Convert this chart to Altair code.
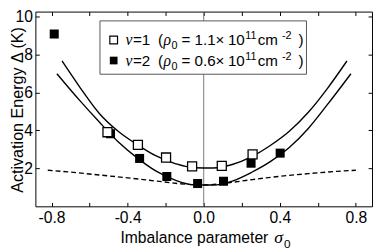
import altair as alt
import pandas as pd

# ---------------- data ----------------
upper_x = [-0.745, -0.65, -0.55, -0.45, -0.35, -0.25, -0.15, -0.05, 0.05, 0.15, 0.25, 0.35, 0.45, 0.55, 0.65, 0.753]
upper_y = [7.65, 6.25, 4.9, 3.95, 3.25, 2.65, 2.25, 2.03, 2.02, 2.2, 2.6, 3.2, 3.95, 4.95, 6.2, 7.65]

lower_x = [-0.772, -0.65, -0.55, -0.45, -0.35, -0.25, -0.15, -0.05, 0.05, 0.15, 0.25, 0.35, 0.45, 0.55, 0.65, 0.774]
lower_y = [6.98, 5.55, 4.45, 3.4, 2.55, 1.85, 1.38, 1.13, 1.12, 1.33, 1.78, 2.35, 3.1, 4.1, 5.35, 6.98]

dash_x = [-0.82, -0.7, -0.55, -0.4, -0.25, -0.1, 0.0, 0.1, 0.25, 0.4, 0.55, 0.7, 0.8]
dash_y = [1.9, 1.8, 1.65, 1.5, 1.33, 1.17, 1.12, 1.2, 1.4, 1.58, 1.72, 1.84, 1.9]

nu1_x = [-0.506, -0.346, -0.198, -0.061, 0.095, 0.257]
nu1_y = [3.9, 3.23, 2.57, 2.1, 2.13, 2.73]

nu2_x = [-0.786, -0.49, -0.337, -0.194, -0.032, 0.104, 0.249, 0.402]
nu2_y = [9.07, 3.82, 2.52, 1.57, 1.2, 1.32, 2.27, 2.8]

x_label_values = [-0.8, -0.4, 0.0, 0.4, 0.8]
x_tick_values = [-0.8, -0.6, -0.4, -0.2, 0.0, 0.2, 0.4, 0.6, 0.8]
y_values = [2, 4, 6, 8, 10]
x_domain = [-0.885, 0.885]
y_domain = [0, 10.25]

legend_nu = ["1", "2"]
legend_rho = ["1.1", "0.6"]
y_title = "Activation Energy Δ (K)"
x_title = "Imbalance parameter"

# ---------------- layout ----------------
W, H = 344, 199
SANS = "Liberation Sans"
SERIF = "Liberation Serif"

xs = alt.Scale(domain=x_domain, nice=False, zero=False)
ys = alt.Scale(domain=y_domain, nice=False, zero=False)

common = dict(grid=False, domain=False, title=None)
ax_x_labels = alt.Axis(orient="bottom", values=x_label_values, ticks=False, tickSize=0,
                       labelPadding=4, labelFontSize=16, labelFont=SANS,
                       labelExpr="datum.value < 0 ? '-' + format(-datum.value, '.1f') : format(datum.value, '.1f')",
                       **common)
ax_x_ticks_bottom = alt.Axis(orient="top", offset=-H, values=x_tick_values, labels=False,
                             tickSize=4, **common)
ax_x_ticks_top = alt.Axis(orient="bottom", offset=-H, values=x_tick_values, labels=False,
                          tickSize=4, **common)
ax_y_labels = alt.Axis(orient="left", values=y_values, ticks=False, tickSize=0, labelPadding=3,
                       labelFontSize=16, labelFont=SANS, grid=False, domain=False,
                       title=y_title, titleFont=SANS, titleFontSize=16.5, titleFontWeight="normal",
                       titleX=-13.5, titleY=100, titleBaseline="alphabetic", titleAngle=270,
                       titleAlign="center", titleColor="black")
ax_y_ticks_left = alt.Axis(orient="right", offset=-W, values=y_values, labels=False,
                           tickSize=4, **common)
ax_y_ticks_right = alt.Axis(orient="left", offset=-W, values=y_values, labels=False,
                            tickSize=4, **common)

one = pd.DataFrame({"k": [0]})

rule0 = alt.Chart(pd.DataFrame({"x": [0.0]})).mark_rule(color="#7a7a7a", strokeWidth=1).encode(
    x=alt.X("x:Q", scale=xs, axis=ax_x_labels))

dashed = alt.Chart(pd.DataFrame({"x": dash_x, "y": dash_y})).mark_line(
    color="black", strokeWidth=1.4, strokeDash=[5, 3], interpolate="monotone").encode(
    x=alt.X("x:Q", scale=xs, axis=ax_x_ticks_bottom),
    y=alt.Y("y:Q", scale=ys, axis=ax_y_labels))

lower = alt.Chart(pd.DataFrame({"x": lower_x, "y": lower_y})).mark_line(
    color="black", strokeWidth=1.4, interpolate="monotone").encode(
    x=alt.X("x:Q", scale=xs, axis=ax_x_ticks_top),
    y=alt.Y("y:Q", scale=ys, axis=ax_y_ticks_left))

upper = alt.Chart(pd.DataFrame({"x": upper_x, "y": upper_y})).mark_line(
    color="black", strokeWidth=1.4, interpolate="monotone").encode(
    x=alt.X("x:Q", scale=xs, axis=None),
    y=alt.Y("y:Q", scale=ys, axis=ax_y_ticks_right))

filled = alt.Chart(pd.DataFrame({"x": nu2_x, "y": nu2_y})).mark_square(
    color="black", size=85, opacity=1).encode(
    x=alt.X("x:Q", scale=xs, axis=None), y=alt.Y("y:Q", scale=ys, axis=None))

hollow = alt.Chart(pd.DataFrame({"x": nu1_x, "y": nu1_y})).mark_square(
    fill="white", stroke="black", strokeWidth=1.3, size=85, opacity=1, filled=True).encode(
    x=alt.X("x:Q", scale=xs, axis=None), y=alt.Y("y:Q", scale=ys, axis=None))

layers = [rule0, dashed, lower, upper, filled, hollow]

# legend box
layers.append(alt.Chart(one).mark_rect(fill="white", stroke="#555555", strokeWidth=1).encode(
    x=alt.value(66), x2=alt.value(277), y=alt.value(9.5), y2=alt.value(64)))
layers.append(alt.Chart(one).mark_square(fill="white", stroke="black", strokeWidth=1.2, size=62,
                                         opacity=1, filled=True).encode(x=alt.value(80), y=alt.value(29)))
layers.append(alt.Chart(one).mark_square(color="black", size=62, opacity=1).encode(
    x=alt.value(80), y=alt.value(50)))

CW = {' ': 0.278, '=': 0.584, '0': 0.556, '1': 0.556, '2': 0.556, '6': 0.556, '.': 0.278,
      '(': 0.333, ')': 0.333, '×': 0.584, 'c': 0.5, 'm': 0.833, '-': 0.333, 'ν': 0.45, 'ρ': 0.5}


def tw(s, size):
    return sum(CW.get(ch, 0.55) for ch in s) * size


def add_pieces(pieces, x0, base):
    x = x0
    for text, fam, size, style, dy, gap in pieces:
        x += gap
        layers.append(alt.Chart(one).mark_text(
            text=text, font=fam, fontSize=size, fontStyle=style, align="left",
            baseline="alphabetic", color="black").encode(
            x=alt.value(x), y=alt.value(base + dy)))
        x += tw(text, size)


for i, (nu, rho) in enumerate(zip(legend_nu, legend_rho)):
    base = 34.5 + 21 * i
    pieces = [
        ("ν", SERIF, 16, "italic", 0, 0),
        ("=" + nu, SANS, 15.5, "normal", 0, 0.5),
        ("(", SANS, 15.5, "normal", 0, 8),
        ("ρ", SERIF, 16, "italic", 0, 0.5),
        ("0", SANS, 11, "normal", 4, 0),
        ("=", SANS, 15.5, "normal", 0, 4.2),
        (rho + "×", SANS, 15.5, "normal", 0, 4.2),
        ("10", SANS, 15.5, "normal", 0, 3.5),
        ("11", SANS, 11, "normal", -6, 0.5),
        ("cm", SANS, 15.5, "normal", 0, 0.5),
        ("-2", SANS, 11, "normal", -6, 4.2),
        (")", SANS, 15.5, "normal", 0, 7),
    ]
    add_pieces(pieces, 92, base)

# x axis title (with italic sigma and subscript)
layers.append(alt.Chart(one).mark_text(
    text=x_title, font=SANS, fontSize=16, align="right", baseline="alphabetic", color="black").encode(
    x=alt.value(238), y=alt.value(236.5)))
layers.append(alt.Chart(one).mark_text(
    text="σ", font=SERIF, fontSize=18, fontStyle="italic", align="left", baseline="alphabetic",
    color="black").encode(x=alt.value(244), y=alt.value(236.5)))
layers.append(alt.Chart(one).mark_text(
    text="0", font=SANS, fontSize=12, align="left", baseline="alphabetic", color="black").encode(
    x=alt.value(254), y=alt.value(242)))

chart = alt.layer(*layers).resolve_axis(x="independent", y="independent").properties(
    width=W, height=H,
    autosize=alt.AutoSizeParams(type="none"),
    padding={"left": 28, "top": 1, "right": 1, "bottom": 44},
).configure_view(stroke="black", strokeWidth=1).configure_axis(
    grid=False, labelColor="black", tickColor="black", tickWidth=1)

chart.save("out.html", embed_options={"renderer": "svg", "actions": False})
